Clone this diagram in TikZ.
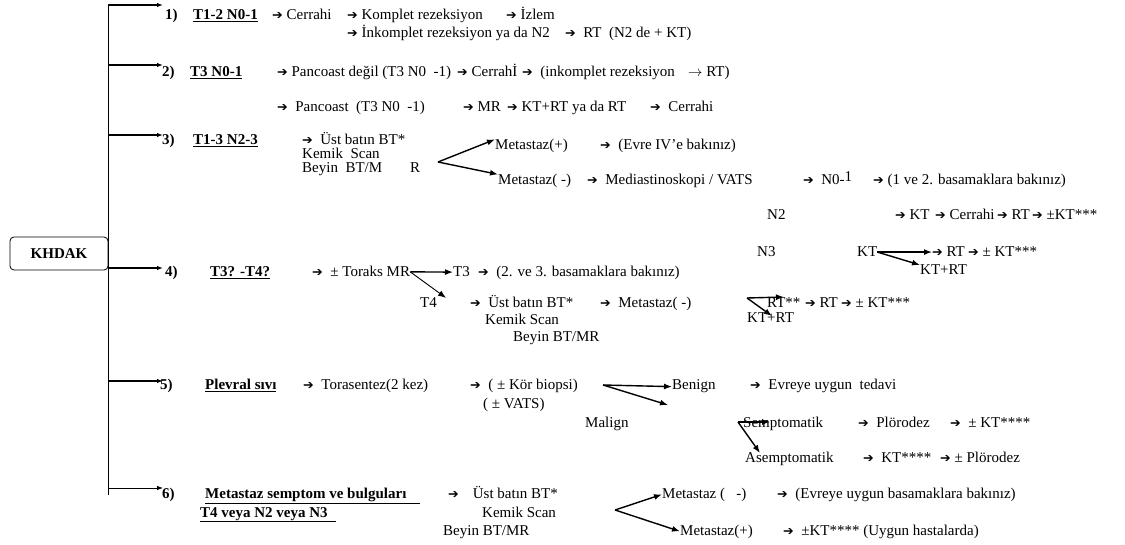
\documentclass[tikz,border=0pt]{standalone}
\usepackage{fontspec}
\setmainfont{Liberation Serif}
\newfontfamily\dingfont[Scale=0.85]{DejaVu Sans}
\usepackage{tikz}
\usetikzlibrary{arrows.meta,positioning}

\newcommand{\diagfont}{\fontsize{15}{17}\selectfont}
\newcommand{\fwd}{{\dingfont ➔}}

\begin{document}
\begin{tikzpicture}[
  x=1pt, y=-1pt,
  every node/.style={font=\diagfont},
  txt/.style={anchor=base west, inner sep=0pt},
  hd/.style={anchor=base west, inner sep=0pt, font=\diagfont\bfseries},
  lbl/.style={anchor=base west, inner sep=0pt, font=\diagfont\bfseries},
  rootbox/.style={draw, rounded corners=4pt, line width=0.8pt, minimum width=98pt, minimum height=33pt, font=\diagfont\bfseries},
  trunk/.style={line width=1.4pt},
  branch/.style={-{Latex[length=6pt,width=4.5pt]}, line width=1.4pt},
  fork/.style={-{Latex[length=8pt,width=6pt]}, line width=1.4pt}
]
\useasboundingbox (0,0) rectangle (1125,545);

\node[rootbox] (kh) at (59,253.5) {KHDAK};
\coordinate (t1) at (163,5);
\coordinate (t2) at (163,65);
\coordinate (t3) at (163,135);
\coordinate (t4) at (163,268);
\coordinate (t5) at (163,381);
\coordinate (t6) at (163,488);
\coordinate (bot) at (108,495);

% 1)
\node[lbl] (l1) at (165,20) {1)};
\node[hd] (h1) at (193,20) {\underline{T1-2 N0-1}};
\node[txt] (c1a) at (272,20) {\fwd\ Cerrahi};
\node[txt] (c1b) at (347,20) {\fwd\ Komplet rezeksiyon};
\node[txt] (c1c) at (506,20) {\fwd\ İzlem};
\node[txt] (c1d) at (347,38) {\fwd\ İnkomplet rezeksiyon ya da N2};
\node[txt] (c1e) at (565,38) {\fwd\ \ RT\ \ (N2 de + KT)};

% 2)
\node[lbl] (l2) at (162,77) {2)};
\node[hd] (h2) at (190,77) {\underline{T3 N0-1}};
\node[txt] (c2a) at (277,77) {\fwd\ Pancoast değil (T3 N0\ \ -1)};
\node[txt] (c2b) at (457,77) {\fwd\ Cerrahİ};
\node[txt] (c2c) at (522,77) {\fwd\ \ (inkomplet rezeksiyon};
\node[txt] (c2d) at (688,77) {$\rightarrow$ RT)};
\node[txt] (c2e) at (277,112) {\fwd\ \ Pancoast\ \ (T3 N0\ \ -1)};
\node[txt] (c2f) at (463,112) {\fwd\ MR};
\node[txt] (c2g) at (507,112) {\fwd\ KT+RT ya da RT};
\node[txt] (c2h) at (650,112) {\fwd\ \ Cerrahi};

% 3)
\node[lbl] (l3) at (162,145) {3)};
\node[hd] (h3) at (193,145) {\underline{T1-3 N2-3}};
\node[txt] (c3a) at (302,145) {\fwd\ \ Üst batın BT*};
\node[txt] (c3b) at (302,159) {Kemik\ \ Scan};
\node[txt] (c3c) at (302,173) {Beyin\ \ BT/M\hspace{28pt}R};
\coordinate (b3) at (438,162);
\node[txt] (m3p) at (495,150) {Metastaz(+)};
\node[txt] (c3d) at (600,150) {\fwd\ \ (Evre IV’e bakınız)};
\node[txt] (m3n) at (498,185) {Metastaz( -)};
\node[txt] (c3e) at (587,185) {\fwd\ \ Mediastinoskopi / VATS};
\node[txt] (c3f) at (803,185) {\fwd\ \ N0-\raisebox{3pt}{1}};
\node[txt] (c3g) at (873,185) {\fwd\ (1 ve 2. basamaklara bakınız)};
\node[txt] (n2) at (767,220) {N2};
\node[txt] (c3h) at (895,220) {\fwd\ KT};
\node[txt] (c3i) at (935,220) {\fwd\ Cerrahi};
\node[txt] (c3j) at (997,220) {\fwd\ RT};
\node[txt] (c3k) at (1032,220) {\fwd\ ±KT***};
\node[txt] (n3) at (757,257) {N3};
\node[txt] (kt3) at (857,257) {KT};
\node[txt] (c3l) at (932,257) {\fwd\ RT};
\node[txt] (c3m) at (968,257) {\fwd\ ± KT***};
\node[txt] (kr3) at (920,275) {KT+RT};

% 4)
\node[lbl] (l4) at (165,277) {4)};
\node[hd] (h4) at (210,277) {\underline{T3? -T4?}};
\node[txt] (c4a) at (312,277) {\fwd\ \ ± Toraks MR};
\node[txt] (t3n) at (453,277) {T3};
\node[txt] (c4b) at (478,277) {\fwd\ \ (2. ve 3. basamaklara bakınız)};
\node[txt] (t4n) at (420,308) {T4};
\node[txt] (c4c) at (470,308) {\fwd\ \ Üst batın BT*};
\node[txt] (c4d) at (600,308) {\fwd\ \ Metastaz( -)};
\node[txt] (rt4) at (767,308) {RT**};
\node[txt] (c4e) at (805,308) {\fwd\ RT};
\node[txt] (c4f) at (841,308) {\fwd\ ± KT***};
\node[txt] (kr4) at (747,323) {KT+RT};
\node[txt] (c4g) at (485,325) {Kemik Scan};
\node[txt] (c4h) at (513,342) {Beyin BT/MR};
\coordinate (b4) at (747,298);
\coordinate (b4r) at (784,297);
\coordinate (b4d) at (772,316);

% 5)
\node[lbl] (l5) at (160,390) {5)};
\node[hd] (h5) at (205,390) {\underline{Plevral sıvı}};
\node[txt] (c5a) at (303,390) {\fwd\ \ Torasentez(2 kez)};
\node[txt] (c5b) at (470,390) {\fwd\ \ ( ± Kör biopsi)};
\node[txt] (c5c) at (483,409) {( ± VATS)};
\coordinate (b5) at (603,385);
\coordinate (b5m) at (668,405);
\node[txt] (ben) at (672,390) {Benign};
\node[txt] (c5d) at (750,390) {\fwd\ \ Evreye uygun\ \ tedavi};
\node[txt] (mal) at (585,427) {Malign};
\node[txt] (sem) at (743,427) {Semptomatik};
\node[txt] (c5e) at (858,427) {\fwd\ \ Plörodez};
\node[txt] (c5f) at (950,427) {\fwd\ \ ± KT****};
\node[txt] (ase) at (745,462) {Asemptomatik};
\node[txt] (c5g) at (863,462) {\fwd\ \ KT****};
\node[txt] (c5h) at (940,462) {\fwd\ ± Plörodez};
\coordinate (b5s) at (738,422);
\coordinate (b5r) at (770,422);
\coordinate (b5d) at (760,453);

% 6)
\node[lbl] (l6) at (162,498) {6)};
\node[hd] (h6) at (205,498) {\underline{Metastaz semptom ve bulguları\hspace{14pt}}};
\node[hd] (h6b) at (200,517) {\underline{T4 veya N2 veya N3\hspace{8pt}}};
\node[txt] (c6a) at (448,498) {\fwd\hspace{14pt}Üst batın BT*};
\node[txt] (c6b) at (482,517) {Kemik Scan};
\node[txt] (c6c) at (443,535) {Beyin BT/MR};
\coordinate (b6) at (615,510);
\node[txt] (m6n) at (662,498) {Metastaz (\ \ \ -)};
\node[txt] (c6d) at (777,498) {\fwd\ \ (Evreye uygun basamaklara bakınız)};
\node[txt] (m6p) at (680,535) {Metastaz(+)};
\node[txt] (c6e) at (783,535) {\fwd\ \ ±KT**** (Uygun hastalarda)};

% tree
\draw[trunk] (kh.east |- t1) -- (kh.east |- bot);
\foreach \i in {1,...,5}
  \draw[branch] (kh.east |- t\i) -- (t\i);
\draw[branch, line width=0.8pt] (kh.east |- t6) -- (t6);

% forks
\draw[fork] (b3) -- (m3p.north west);
\draw[fork] (b3) -- (m3n.north west);
\draw[fork] (kt3.east) -- (c3l.west);
\draw[fork] (kt3.east) -- (kr3.north west);
\draw[fork] (c4a.east) -- (t3n.west);
\draw[fork, line width=0.9pt] (c4a.east) -- ([xshift=9pt]t4n.north east);
\draw[fork] (b4) -- (b4r);
\draw[fork] (b4) -- (b4d);
\draw[fork] (b5) -- (ben.west);
\draw[fork] (b5) -- (b5m);
\draw[fork] (b5s) -- (b5r);
\draw[fork] (b5s) -- (b5d);
\draw[fork] (b6) -- (m6n.west);
\draw[fork] (b6) -- (m6p.west);
\end{tikzpicture}
\end{document}
